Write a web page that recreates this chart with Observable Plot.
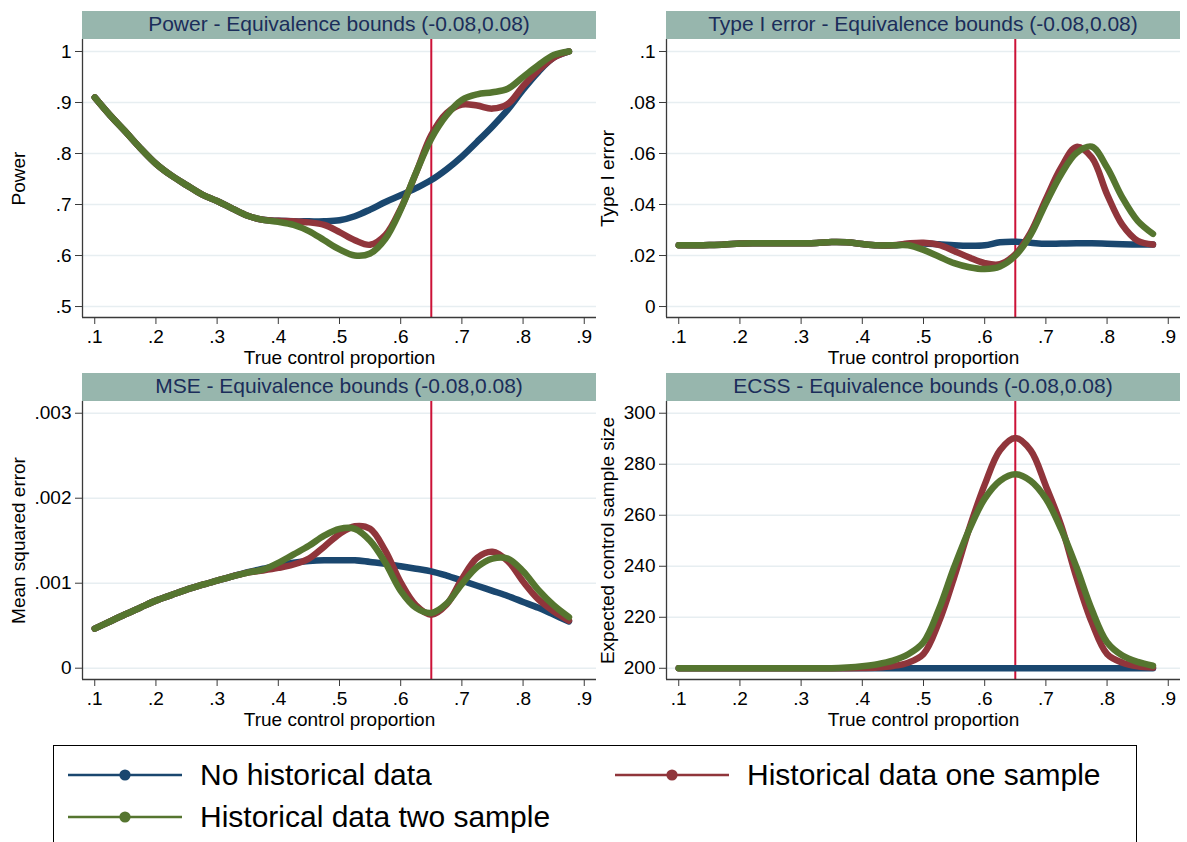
<!DOCTYPE html>
<html>
<head>
<meta charset="utf-8">
<script src="https://cdn.jsdelivr.net/npm/d3@7"></script>
<script src="https://cdn.jsdelivr.net/npm/@observablehq/plot@0.6"></script>
<style>
  html, body { margin: 0; padding: 0; background: #ffffff; }
  body { width: 1187px; height: 842px; overflow: hidden; position: relative;
         font-family: 'Liberation Sans', Arial, sans-serif; }
  .panel { position: absolute; }
  .bar { position: absolute; background: #97b6ad; color: #1b2d5a; text-align: center;
         font-size: 21px; line-height: 26px; height: 28px; white-space: nowrap; }
  .legend { position: absolute; left: 53px; top: 745px; width: 1084px; height: 130px;
            border: 1.6px solid #000; box-sizing: border-box; }
  .item { position: absolute; display: flex; align-items: center; font-size: 30px; color: #000; white-space: nowrap; }
  .item svg { margin-right: 18px; }
</style>
</head>
<body>
<div id="root"></div>
<script>
// ---------- data ----------
const prop = [0.1, 0.125, 0.15, 0.175, 0.2, 0.225, 0.25, 0.275, 0.3, 0.325, 0.35, 0.375,
              0.4, 0.425, 0.45, 0.475, 0.5, 0.525, 0.55, 0.575, 0.6, 0.625, 0.65, 0.675,
              0.7, 0.725, 0.75, 0.775, 0.8, 0.825, 0.85, 0.875];

const seriesNames = ["No historical data", "Historical data one sample", "Historical data two sample"];
const seriesColors = ["#1a476f", "#90353b", "#55752f"];

// Power
const powerNone = [0.910, 0.875, 0.843, 0.810, 0.780, 0.757, 0.738, 0.720, 0.707, 0.692, 0.678, 0.670,
                   0.668, 0.667, 0.667, 0.667, 0.669, 0.677, 0.690, 0.705, 0.718, 0.732, 0.748, 0.769,
                   0.794, 0.823, 0.853, 0.886, 0.925, 0.960, 0.988, 1.000];
const powerOne  = [0.910, 0.875, 0.843, 0.810, 0.780, 0.757, 0.738, 0.720, 0.707, 0.692, 0.678, 0.670,
                   0.668, 0.667, 0.665, 0.660, 0.646, 0.630, 0.621, 0.640, 0.692, 0.762, 0.836, 0.879,
                   0.896, 0.894, 0.888, 0.897, 0.932, 0.963, 0.988, 1.000];
const powerTwo  = [0.910, 0.875, 0.843, 0.810, 0.780, 0.757, 0.738, 0.720, 0.707, 0.692, 0.678, 0.670,
                   0.666, 0.660, 0.648, 0.630, 0.612, 0.600, 0.604, 0.633, 0.690, 0.762, 0.829, 0.875,
                   0.905, 0.916, 0.920, 0.927, 0.950, 0.973, 0.993, 1.000];

// Type I error
const t1None = [0.0240, 0.0240, 0.0241, 0.0243, 0.0247, 0.0248, 0.0248, 0.0248, 0.0248, 0.0249, 0.0253, 0.0252,
                0.0245, 0.0240, 0.0240, 0.0245, 0.0247, 0.0244, 0.0240, 0.0238, 0.0240, 0.0252, 0.0254, 0.0250,
                0.0246, 0.0247, 0.0248, 0.0248, 0.0246, 0.0244, 0.0243, 0.0243];
const t1One  = [0.0240, 0.0240, 0.0241, 0.0243, 0.0247, 0.0248, 0.0248, 0.0248, 0.0248, 0.0249, 0.0253, 0.0252,
                0.0245, 0.0240, 0.0240, 0.0247, 0.0250, 0.0242, 0.0218, 0.0192, 0.0170, 0.0166, 0.0205, 0.0290,
                0.0421, 0.0545, 0.0626, 0.0584, 0.0440, 0.0320, 0.0258, 0.0243];
const t1Two  = [0.0240, 0.0240, 0.0241, 0.0243, 0.0247, 0.0248, 0.0248, 0.0248, 0.0248, 0.0249, 0.0253, 0.0252,
                0.0245, 0.0240, 0.0240, 0.0240, 0.0222, 0.0196, 0.0170, 0.0154, 0.0147, 0.0157, 0.0199, 0.0281,
                0.0405, 0.0519, 0.0602, 0.0627, 0.0545, 0.0427, 0.0336, 0.0285];

// Mean squared error
const mseNone = [0.000465, 0.000550, 0.000635, 0.000715, 0.000795, 0.000860, 0.000925, 0.000980, 0.001030, 0.001080, 0.001130, 0.001170,
                 0.001210, 0.001240, 0.001260, 0.001270, 0.001270, 0.001270, 0.001250, 0.001230, 0.001200, 0.001170, 0.001140, 0.001090,
                 0.001030, 0.000970, 0.000910, 0.000850, 0.000780, 0.000710, 0.000630, 0.000550];
const mseOne  = [0.000465, 0.000550, 0.000635, 0.000715, 0.000795, 0.000860, 0.000925, 0.000980, 0.001030, 0.001080, 0.001125, 0.001150,
                 0.001180, 0.001220, 0.001290, 0.001430, 0.001580, 0.001670, 0.001640, 0.001380, 0.001010, 0.000740, 0.000630, 0.000750,
                 0.001050, 0.001300, 0.001370, 0.001260, 0.001020, 0.000810, 0.000670, 0.000560];
const mseTwo  = [0.000465, 0.000550, 0.000635, 0.000715, 0.000795, 0.000860, 0.000925, 0.000980, 0.001030, 0.001080, 0.001125, 0.001160,
                 0.001240, 0.001340, 0.001440, 0.001560, 0.001640, 0.001640, 0.001500, 0.001240, 0.000910, 0.000710, 0.000650, 0.000760,
                 0.000990, 0.001190, 0.001290, 0.001290, 0.001140, 0.000920, 0.000740, 0.000600];

// Expected control sample size
const ecssNone = [200, 200, 200, 200, 200, 200, 200, 200, 200, 200, 200, 200,
                  200, 200, 200, 200, 200, 200, 200, 200, 200, 200, 200, 200,
                  200, 200, 200, 200, 200, 200, 200, 200];
const ecssOne  = [200, 200, 200, 200, 200, 200, 200, 200, 200, 200, 200, 200,
                  200.1, 200.3, 200.9, 202.2, 205.6, 218.0, 235.6, 255.0, 272.0, 285.5, 290.3, 285.5,
                  271.5, 256.0, 235.6, 218.0, 205.6, 202.2, 200.8, 200.3];
const ecssTwo  = [200, 200, 200, 200, 200, 200, 200, 200, 200, 200, 200, 200.3,
                  200.8, 201.6, 203.0, 205.5, 210.2, 223.0, 239.6, 254.5, 266.5, 273.5, 276.1, 273.5,
                  266.5, 254.5, 239.6, 223.0, 210.2, 205.0, 202.5, 201.0];

const xTicks = [0.1, 0.2, 0.3, 0.4, 0.5, 0.6, 0.7, 0.8, 0.9];
const powerTicks = [0.5, 0.6, 0.7, 0.8, 0.9, 1];
const t1Ticks = [0, 0.02, 0.04, 0.06, 0.08, 0.1];
const mseTicks = [0, 0.001, 0.002, 0.003];
const ecssTicks = [200, 220, 240, 260, 280, 300];
const refLine = [0.65];

const xTitle = "True control proportion";

// ---------- build ----------
function tidy(a, b, c) {
  const out = [];
  [a, b, c].forEach((vals, k) => vals.forEach((v, i) => out.push({x: prop[i], y: v, s: seriesNames[k]})));
  return out;
}
const fmt = d => d === 0 ? "0" : String(d).replace(/^0\./, ".");

const panels = [
  {title: "Power - Equivalence bounds (-0.08,0.08)", ylab: "Power", data: tidy(powerNone, powerOne, powerTwo),
   yTicks: powerTicks, yDomain: [0.4785, 1.0235], left: 0, top: 39, ml: 82, ylabDx: -64},
  {title: "Type I error - Equivalence bounds (-0.08,0.08)", ylab: "Type I error", data: tidy(t1None, t1One, t1Two),
   yTicks: t1Ticks, yDomain: [-0.0043, 0.1047], left: 590, top: 39, ml: 76, ylabDx: -59},
  {title: "MSE - Equivalence bounds (-0.08,0.08)", ylab: "Mean squared error", data: tidy(mseNone, mseOne, mseTwo),
   yTicks: mseTicks, yDomain: [-0.000133, 0.003138], left: 0, top: 401, ml: 82, ylabDx: -64},
  {title: "ECSS - Equivalence bounds (-0.08,0.08)", ylab: "Expected control sample size", data: tidy(ecssNone, ecssOne, ecssTwo),
   yTicks: ecssTicks, yDomain: [195.6, 304.6], left: 590, top: 401, ml: 76, ylabDx: -59}
];

const root = document.getElementById("root");
const plotW = 514, plotH = 278, mb = 52;
const xDomain = [0.08, 0.92];

panels.forEach(p => {
  const svg = Plot.plot({
    width: p.ml + plotW + 6,
    height: plotH + mb,
    marginLeft: p.ml, marginRight: 6, marginTop: 0, marginBottom: mb,
    style: {fontFamily: "'Liberation Sans', Arial, sans-serif", fontSize: "19px", color: "#000", background: "transparent", overflow: "visible"},
    x: {domain: xDomain},
    y: {domain: p.yDomain},
    color: {domain: seriesNames, range: seriesColors},
    marks: [
      Plot.gridY(p.yTicks, {stroke: "#e7eef1", strokeOpacity: 1, strokeWidth: 1.6}),
      Plot.ruleX(refLine, {stroke: "#cc1237", strokeWidth: 2}),
      Plot.line(p.data, {x: "x", y: "y", z: "s", stroke: "s", strokeWidth: 6.5, curve: "catmull-rom", strokeLinecap: "round"}),
      Plot.ruleX([xDomain[0]], {stroke: "#3a3a3a", strokeWidth: 1.3}),
      Plot.ruleY([p.yDomain[0]], {stroke: "#3a3a3a", strokeWidth: 1.3}),
      Plot.axisX(xTicks, {tickFormat: fmt, tickSize: 7, tickPadding: 5, label: null, stroke: "#3a3a3a", fill: "#000", fontSize: 19}),
      Plot.axisY(p.yTicks, {tickFormat: fmt, tickSize: 7, tickPadding: 4, label: null, stroke: "#3a3a3a", fill: "#000", fontSize: 19}),
      Plot.text([xTitle], {frameAnchor: "bottom", lineAnchor: "middle", dy: 40, fill: "#000", fontSize: 19}),
      Plot.text([p.ylab], {frameAnchor: "left", textAnchor: "middle", lineAnchor: "middle", rotate: -90, dx: p.ylabDx, fill: "#000", fontSize: 19})
    ]
  });
  const wrap = document.createElement("div");
  wrap.className = "panel";
  wrap.style.left = p.left + "px";
  wrap.style.top = p.top + "px";
  wrap.appendChild(svg);
  root.appendChild(wrap);

  const bar = document.createElement("div");
  bar.className = "bar";
  bar.style.left = (p.left + p.ml) + "px";
  bar.style.width = plotW + "px";
  bar.style.top = (p.top - 28) + "px";
  bar.textContent = p.title;
  root.appendChild(bar);
});

// ---------- legend ----------
const legend = document.createElement("div");
legend.className = "legend";
root.appendChild(legend);
const legendPos = [[68, 775], [615, 775], [68, 817]];
seriesNames.forEach((name, k) => {
  const it = document.createElement("div");
  it.className = "item";
  it.style.left = legendPos[k][0] + "px";
  it.style.top = (legendPos[k][1] - 20) + "px";
  it.style.height = "40px";
  it.innerHTML = `<svg width="114" height="14"><line x1="0" x2="114" y1="7" y2="7" stroke="${seriesColors[k]}" stroke-width="2.6"/><circle cx="57" cy="7" r="5.6" fill="${seriesColors[k]}"/></svg><span>${name}</span>`;
  root.appendChild(it);
});
</script>
</body>
</html>
